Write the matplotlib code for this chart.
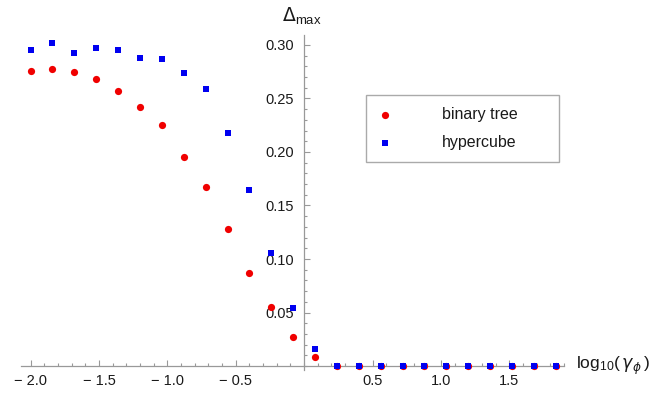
import numpy as np
import matplotlib
matplotlib.use("Agg")
import matplotlib.pyplot as plt
from matplotlib.ticker import FixedLocator, MultipleLocator

plt.rcParams['font.family'] = ['Liberation Sans', 'DejaVu Sans']
plt.rcParams['mathtext.fontset'] = 'dejavusans'

# log10(gamma_phi) sample points
log_gamma = [-2.00, -1.84, -1.68, -1.52, -1.36, -1.20, -1.04, -0.88, -0.72,
             -0.56, -0.40, -0.24, -0.08, 0.08, 0.24, 0.40, 0.56, 0.72, 0.88,
             1.04, 1.20, 1.36, 1.52, 1.68, 1.84]
binary_tree = [0.276, 0.2776, 0.2744, 0.268, 0.2573, 0.2424, 0.2255, 0.1956,
               0.167, 0.128, 0.0866, 0.0548, 0.027, 0.008, 0.0, 0.0, 0.0, 0.0,
               0.0, 0.0, 0.0, 0.0, 0.0, 0.0, 0.0]
hypercube = [0.2953, 0.3016, 0.2928, 0.2969, 0.2953, 0.288, 0.2872, 0.2735,
             0.2592, 0.218, 0.1642, 0.1053, 0.0542, 0.0159, 0.0, 0.0, 0.0, 0.0,
             0.0, 0.0, 0.0, 0.0, 0.0, 0.0, 0.0]

xticks = [-2.0, -1.5, -1.0, -0.5, 0.5, 1.0, 1.5]
xtick_labels = ['\u2212 2.0', '\u2212 1.5', '\u2212 1.0', '\u2212 0.5', '0.5', '1.0', '1.5']
yticks = [0.05, 0.10, 0.15, 0.20, 0.25, 0.30]
ytick_labels = ['0.05', '0.10', '0.15', '0.20', '0.25', '0.30']

W, H = 651, 393
fig = plt.figure(figsize=(W / 100, H / 100), dpi=100)
# axes box in pixels: x 21..564, y 35..370 (from top)
ax = fig.add_axes([21 / W, (H - 370) / H, 543 / W, 335 / H])
ax.set_xlim(-2.07, 1.90)
ax.set_ylim(-0.0037, 0.3093)

ax.scatter(log_gamma, binary_tree, s=5.2 ** 2, marker='o', color='#f00000',
           linewidths=0, label='binary tree', clip_on=False, zorder=3)
ax.scatter(log_gamma, hypercube, s=4.6 ** 2, marker='s', color='#0000f0',
           linewidths=0, label='hypercube', clip_on=False, zorder=3)

axis_col = '#999999'
for s in ['top', 'right']:
    ax.spines[s].set_visible(False)
ax.spines['left'].set_position(('data', 0))
ax.spines['bottom'].set_position(('data', 0))
for s in ['left', 'bottom']:
    ax.spines[s].set_color(axis_col)
    ax.spines[s].set_linewidth(0.9)

ax.xaxis.set_major_locator(FixedLocator(xticks))
ax.set_xticklabels(xtick_labels)
ax.xaxis.set_minor_locator(MultipleLocator(0.1))
ax.yaxis.set_major_locator(FixedLocator(yticks))
ax.set_yticklabels(ytick_labels)
ax.yaxis.set_minor_locator(MultipleLocator(0.01))

ax.tick_params(which='both', direction='in', color=axis_col, width=0.8,
               labelsize=10.5, labelcolor='#1a1a1a')
ax.tick_params(which='major', length=4.5)
ax.tick_params(which='minor', length=2.5)
ax.tick_params(axis='x', pad=6)
ax.tick_params(axis='y', pad=7.5)

ax.text(-0.16, 0.327, r'$\Delta_{\mathregular{max}}$', fontsize=13.5,
        color='#1a1a1a', ha='left', va='center')
ax.text(1.99, 0.0, r'$\mathregular{log_{10}(}\,\gamma_{\phi}\,\mathregular{)}$',
        fontsize=12.5, color='#1a1a1a', ha='left', va='center')

leg = ax.legend(loc='upper left', bbox_to_anchor=(0.635, 0.630, 0.356, 0.191),
                mode='expand', borderaxespad=0, fancybox=False, framealpha=1,
                edgecolor='#aaaaaa', fontsize=11.5, labelspacing=0.8,
                borderpad=0.75, handlelength=0.9, handletextpad=3.1)
leg.get_frame().set_linewidth(1.0)
for t in leg.get_texts():
    t.set_color('#1a1a1a')

fig.savefig('out.png', dpi=100)
